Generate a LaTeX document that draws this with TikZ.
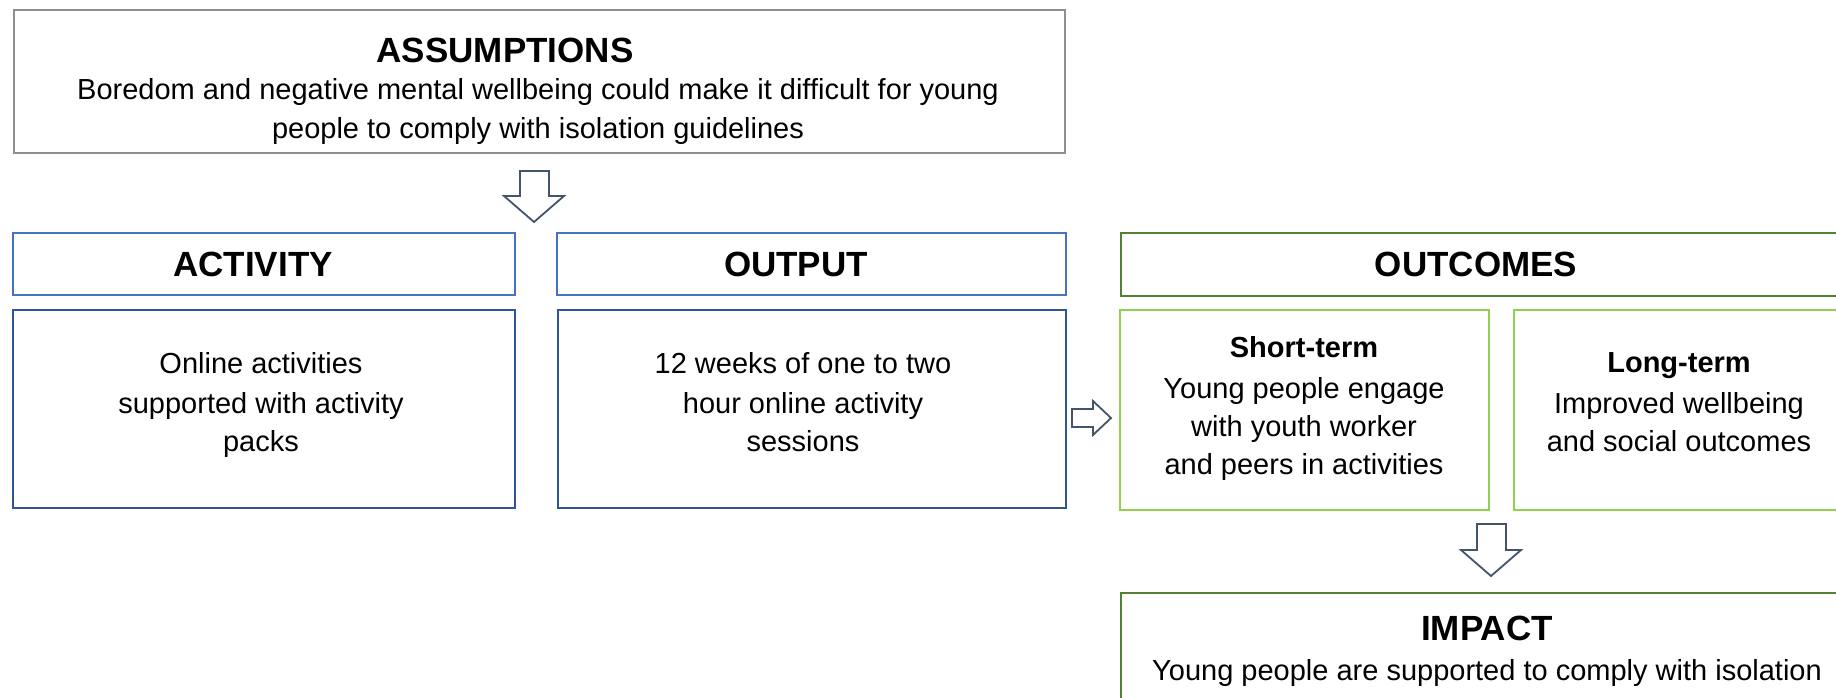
\documentclass[tikz,border=0pt]{standalone}
\usepackage{fontspec}
\setmainfont{Liberation Sans}
\definecolor{greyline}{HTML}{8E8E8E}
\definecolor{headblue}{HTML}{4472C4}
\definecolor{bodyblue}{HTML}{2F5597}
\definecolor{darkgreen}{HTML}{538135}
\definecolor{lightgreen}{HTML}{92D050}
\definecolor{arrowline}{HTML}{44546A}
\begin{document}
\begin{tikzpicture}[x=1pt,y=-1pt,
  box/.style={draw, line width=2pt, fill=white, inner sep=0pt, anchor=north west},
  txt/.style={anchor=base, inner sep=0pt, font=\fontsize{29}{38}\selectfont},
  ttl/.style={anchor=base, inner sep=0pt, font=\fontsize{35}{42}\selectfont\bfseries},
  sub/.style={anchor=base, inner sep=0pt, font=\fontsize{29}{38}\selectfont\bfseries},
  blockarrow/.style={draw=arrowline, line width=1.8pt, fill=white, line join=miter}]
\useasboundingbox (0,0) rectangle (1836,697);
\clip (0,0) rectangle (1836,697);
\fill[white] (0,0) rectangle (1836,697);

% assumptions
\node[box, draw=greyline, minimum width=1051pt, minimum height=143pt] (asm) at (13,9) {};
\node[ttl] (asmt) at (505,62) {ASSUMPTIONS};
\node[txt] (asm1) at (538,99) {Boredom and negative mental wellbeing could make it difficult for young};
\node[txt] (asm2) at (538,138) {people to comply with isolation guidelines};

% column headers
\node[box, draw=headblue, minimum width=502pt, minimum height=62pt] (acth) at (12,232) {};
\node[ttl] (actt) at (253,276) {ACTIVITY};
\node[box, draw=headblue, minimum width=509pt, minimum height=62pt] (outh) at (556,232) {};
\node[ttl] (outt) at (796,276) {OUTPUT};
\node[box, draw=darkgreen, minimum width=732pt, minimum height=63pt] (ocmh) at (1120,232) {};
\node[ttl] (ocmt) at (1476,276) {OUTCOMES};

% activity and output
\node[box, draw=bodyblue, minimum width=502pt, minimum height=198pt] (actb) at (12,309) {};
\node[txt] (act1) at (261,373) {Online activities};
\node[txt] (act2) at (261,413) {supported with activity};
\node[txt] (act3) at (261,451) {packs};
\node[box, draw=bodyblue, minimum width=508pt, minimum height=198pt] (outb) at (557,309) {};
\node[txt] (out1) at (803,373) {12 weeks of one to two};
\node[txt] (out2) at (803,413) {hour online activity};
\node[txt] (out3) at (803,451) {sessions};

% outcomes
\node[box, draw=lightgreen, minimum width=369pt, minimum height=200pt] (shb) at (1119,309) {};
\node[sub] (sht) at (1304,357) {Short-term};
\node[txt] (sh1) at (1304,398) {Young people engage};
\node[txt] (sh2) at (1304,436) {with youth worker};
\node[txt] (sh3) at (1304,474) {and peers in activities};
\node[box, draw=lightgreen, minimum width=332pt, minimum height=200pt] (lgb) at (1513,309) {};
\node[sub] (lgt) at (1679,372) {Long-term};
\node[txt] (lg1) at (1679,413) {Improved wellbeing};
\node[txt] (lg2) at (1679,451) {and social outcomes};

% impact
\node[box, draw=darkgreen, minimum width=734pt, minimum height=140pt] (imp) at (1120,592) {};
\node[ttl] (impt) at (1487,640) {IMPACT};
\node[txt] (imp1) at (1487,680) {Young people are supported to comply with isolation};

% block arrows
\draw[blockarrow] (520,171) -- (549,171) -- (549,196) -- (564,196) -- (534,222)
  -- (504,196) -- (520,196) -- cycle;
\draw[blockarrow] (1072,409) -- (1093,409) -- (1093,401) -- (1111,418) -- (1093,435)
  -- (1093,427) -- (1072,427) -- cycle;
\draw[blockarrow] (1477,524) -- (1506,524) -- (1506,550) -- (1521,550) -- (1491,576)
  -- (1461,550) -- (1477,550) -- cycle;
\end{tikzpicture}
\end{document}
